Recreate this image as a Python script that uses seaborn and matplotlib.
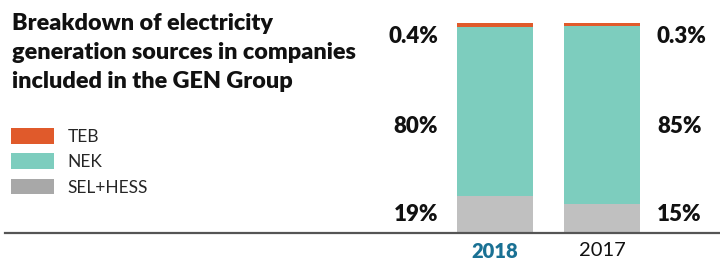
import pandas as pd
import matplotlib.pyplot as plt
import seaborn as sns
from matplotlib.patches import Patch

# Data (bar heights in %, printed labels as text)
years = ["2018", "2017"]
sel_hess = [17.7, 14.0]
nek = [80.4, 84.6]
teb = [1.9, 1.4]
series_names = ["TEB", "NEK", "SEL+HESS"]
labels_2018 = ["0.4%", "80%", "19%"]
labels_2017 = ["0.3%", "85%", "15%"]
label_rows = [93.8, 50.5, 9.0]

title = ("Breakdown of electricity\n"
         "generation sources in companies\n"
         "included in the GEN Group")

bar_colors = {"TEB": "#E05A2B", "NEK": "#7DCDBE", "SEL+HESS": "#C0C0C0"}
legend_colors = {"TEB": "#E05A2B", "NEK": "#7DCDBE", "SEL+HESS": "#A8A8A8"}

df = pd.DataFrame({"year": years, "SEL+HESS": sel_hess, "NEK": nek, "TEB": teb})
# cumulative tops, drawn from the tallest down so the layers stack
df["top_sel"] = df["SEL+HESS"]
df["top_nek"] = df["top_sel"] + df["NEK"]
df["top_teb"] = df["top_nek"] + df["TEB"]

sns.set_theme(style="white")
plt.rcParams["font.family"] = ["Lato", "DejaVu Sans"]

W, H = 720, 261
fig = plt.figure(figsize=(W / 100, H / 100), dpi=100)
ax = fig.add_axes([5 / W, (H - 233) / H, 715 / W, 210 / H])

for col, name in [("top_teb", "TEB"), ("top_nek", "NEK"), ("top_sel", "SEL+HESS")]:
    sns.barplot(data=df, x="year", y=col, order=years, color=bar_colors[name],
                width=0.71, saturation=1, ax=ax, edgecolor="none", linewidth=0)

ax.set_xlim(-4.579, 2.103)
ax.set_ylim(0, 100)
ax.set_xlabel("")
ax.set_ylabel("")
ax.set_yticks([])
for side in ["top", "left", "right"]:
    ax.spines[side].set_visible(False)
ax.spines["bottom"].set_color("#555555")
ax.spines["bottom"].set_linewidth(1.6)
ax.tick_params(axis="x", length=0, pad=6.5, labelsize=14.5)
tl = ax.get_xticklabels()
tl[0].set_fontweight("heavy")
tl[0].set_color("#1A7194")
tl[1].set_color("#111111")

for y, lab in zip(label_rows, labels_2018):
    ax.text(-0.533, y, lab, ha="right", va="center", fontsize=16, fontweight="heavy", color="#111111")
for y, lab in zip(label_rows, labels_2017):
    ax.text(1.514, y, lab, ha="left", va="center", fontsize=16, fontweight="heavy", color="#111111")

fig.text(12 / W, 1 - 13 / H, title, ha="left", va="top", fontsize=16.8,
         fontweight="heavy", color="#111111", linespacing=1.47)

handles = [Patch(facecolor=legend_colors[n], edgecolor="none") for n in series_names]
fig.legend(handles, series_names, loc="upper left", bbox_to_anchor=(11 / W, 1 - 128 / H),
           bbox_transform=fig.transFigure, frameon=False, fontsize=12.5,
           handlelength=2.45, handleheight=1.0, handletextpad=0.8,
           labelspacing=0.5, borderpad=0, borderaxespad=0)

fig.savefig("out.png", dpi=100)
